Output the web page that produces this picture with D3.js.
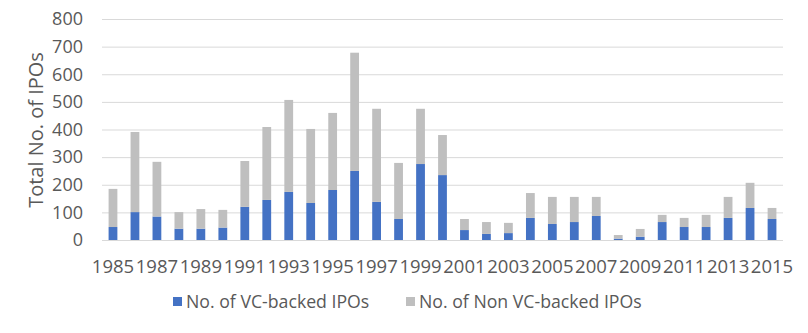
<!DOCTYPE html>
<html><head><meta charset="utf-8">
<script src="https://cdn.jsdelivr.net/npm/d3@7"></script>
<style>body{margin:0;background:#fff}svg{font-family:"Open Sans",sans-serif}</style>
</head><body><svg id="c" width="808" height="333"></svg>
<script>
const years = d3.range(1985, 2016).map(String);
const vcBacked = [47,101,85,41,41,45,120,145,174,134,181,250,138,76,275,235,36,22,25,80,58,65,87,5,12,65,47,47,80,116,76];
const totals   = [185,391,283,101,112,109,286,409,507,402,460,678,475,279,475,380,76,65,62,170,156,156,156,18,40,91,80,91,156,207,116];
const nonVcBacked = totals.map((t,i)=>t - vcBacked[i]);
const seriesNames = ["No. of VC-backed IPOs","No. of Non VC-backed IPOs"];
const colors = ["#4472C4","#BFBFBF"];
const yTicks = [0,100,200,300,400,500,600,700,800];

const svg = d3.select("#c");
const m = {l:102, r:25, t:19, b:93};
const W = 808, H = 333;
const x = d3.scaleBand().domain(years).range([m.l, W-m.r]).paddingInner(0.6).paddingOuter(0.3);
const y = d3.scaleLinear().domain([0,800]).range([H-m.b, m.t]);

// gridlines
svg.append("g").selectAll("line").data(yTicks).join("line")
  .attr("x1", m.l).attr("x2", W-m.r)
  .attr("y1", d=>y(d)+0.5).attr("y2", d=>y(d)+0.5)
  .attr("stroke","#D9D9D9").attr("stroke-width",1);

// y tick labels
svg.append("g").selectAll("text").data(yTicks).join("text")
  .attr("x", 83).attr("y", d=>y(d)).attr("dy","0.35em")
  .attr("text-anchor","end").attr("fill","#595959").attr("font-size",18)
  .text(d=>d);

// stacked bars
const data = years.map((yr,i)=>({year:yr, vc:vcBacked[i], non:nonVcBacked[i]}));
const stack = d3.stack().keys(["vc","non"])(data);
svg.append("g").selectAll("g").data(stack).join("g")
  .attr("fill",(d,i)=>colors[i])
  .selectAll("rect").data(d=>d).join("rect")
  .attr("x", d=>x(d.data.year)).attr("width", x.bandwidth())
  .attr("y", d=>y(d[1])).attr("height", d=>y(d[0])-y(d[1]));

// x labels (every other year)
svg.append("g").selectAll("text").data(years.filter((d,i)=>i%2===0)).join("text")
  .attr("x", d=>x(d)+x.bandwidth()/2).attr("y", 267).attr("dy","0.35em")
  .attr("text-anchor","middle").attr("fill","#595959").attr("font-size",18.5)
  .text(d=>d);

// y axis title
svg.append("text").attr("transform","translate(36,130) rotate(-90)")
  .attr("text-anchor","middle").attr("dy","0.35em").attr("fill","#595959").attr("font-size",20)
  .text("Total No. of IPOs");

// legend
const lg = svg.append("g");
const lx = [173, 406];
seriesNames.forEach((n,i)=>{
  lg.append("rect").attr("x", lx[i]).attr("y", 297).attr("width",9).attr("height",9).attr("fill",colors[i]);
  lg.append("text").attr("x", lx[i]+13).attr("y", 302).attr("dy","0.35em")
    .attr("fill","#595959").attr("font-size",17.7).text(n);
});
</script></body></html>
